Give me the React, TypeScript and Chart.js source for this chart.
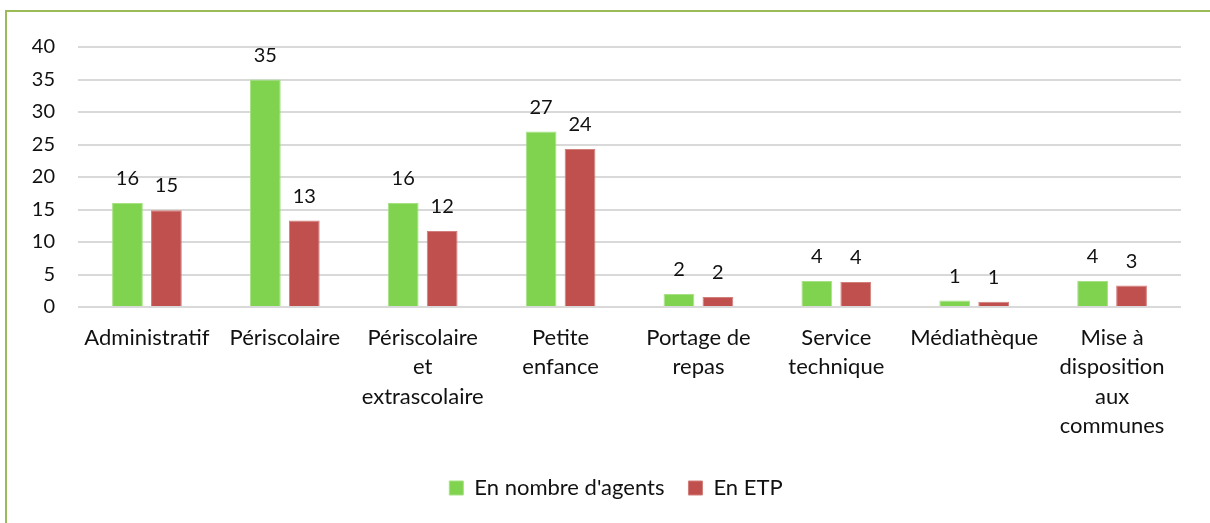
import React, { useEffect, useRef } from "react";
import { Chart, registerables } from "chart.js";

Chart.register(...registerables);

const categories: string[][] = [
  ["Administratif"],
  ["Périscolaire"],
  ["Périscolaire", "et", "extrascolaire"],
  ["Petite", "enfance"],
  ["Portage de", "repas"],
  ["Service", "technique"],
  ["Médiathèque"],
  ["Mise à", "disposition", "aux", "communes"],
];
const agents: number[] = [16, 35, 16, 27, 2, 4, 1, 4];
const etp: number[] = [14.9, 13.3, 11.7, 24.3, 1.55, 3.86, 0.82, 3.3];
const seriesNames: string[] = ["En nombre d'agents", "En ETP"];
const yTicks = { min: 0, max: 40, step: 5 };

const FONT = "Lato, 'Open Sans', sans-serif";
const TEXT = "#111111";

const dataLabelPlugin = {
  id: "dataLabels",
  afterDatasetsDraw(chart: any) {
    const ctx = chart.ctx;
    ctx.save();
    ctx.font = `20px ${FONT}`;
    ctx.fillStyle = TEXT;
    ctx.textAlign = "center";
    ctx.textBaseline = "alphabetic";
    chart.data.datasets.forEach((ds: any, i: number) => {
      const meta = chart.getDatasetMeta(i);
      meta.data.forEach((bar: any, j: number) => {
        const v = Math.round(ds.data[j]);
        ctx.fillText(String(v), bar.x, bar.y - 18);
      });
    });
    ctx.restore();
  },
};

const legendShiftPlugin = {
  id: "legendShift",
  beforeDraw(chart: any) {
    if (chart.legend) {
      chart.legend.left = 51;
    }
  },
};

export default function App() {
  const ref = useRef<HTMLCanvasElement | null>(null);
  useEffect(() => {
    if (!ref.current) return;
    const chart = new Chart(ref.current, {
      type: "bar",
      data: {
        labels: categories,
        datasets: [
          {
            label: seriesNames[0],
            data: agents,
            backgroundColor: "#80D34E",
            borderColor: "#A6E184",
            borderWidth: 1,
            categoryPercentage: 0.565,
            barPercentage: 0.79,
          },
          {
            label: seriesNames[1],
            data: etp,
            backgroundColor: "#C0504D",
            borderColor: "#D27E7B",
            borderWidth: 1,
            categoryPercentage: 0.565,
            barPercentage: 0.79,
          },
        ],
      },
      options: {
        animation: false,
        responsive: false,
        maintainAspectRatio: false,
        layout: { padding: { left: 0, right: 29, top: 47, bottom: 14 } },
        plugins: {
          legend: {
            position: "bottom",
            labels: {
              boxWidth: 14,
              boxHeight: 14,
              padding: 24,
              color: TEXT,
              font: { family: FONT, size: 22 },
            },
          },
          tooltip: { enabled: false },
        },
        scales: {
          x: {
            grid: { display: false, drawTicks: false },
            border: { display: false },
            ticks: {
              color: TEXT,
              padding: 16,
              maxRotation: 0,
              autoSkip: false,
              font: { family: FONT, size: 22, lineHeight: 1.34 },
            },
            afterFit(scale: any) {
              scale.height = 146;
            },
          },
          y: {
            min: yTicks.min,
            max: yTicks.max,
            ticks: {
              stepSize: yTicks.step,
              color: TEXT,
              padding: 23,
              font: { family: FONT, size: 20 },
            },
            grid: { color: "#D9D9D9", lineWidth: 2, drawTicks: false },
            border: { display: false },
            afterFit(scale: any) {
              scale.width = 78;
            },
          },
        },
      },
      plugins: [dataLabelPlugin, legendShiftPlugin],
    } as any);
    return () => chart.destroy();
  }, []);

  return (
    <div style={{ position: "fixed", left: 0, top: 0, width: 1210, height: 523, overflow: "hidden", background: "#fff" }}>
      <div
        style={{
          position: "absolute",
          left: 5,
          top: 10,
          width: 1400,
          height: 700,
          border: "2px solid #9BBB59",
          boxSizing: "border-box",
        }}
      />
      <canvas ref={ref} width={1210} height={523} style={{ position: "absolute", left: 0, top: 0, width: 1210, height: 523 }} />
    </div>
  );
}
